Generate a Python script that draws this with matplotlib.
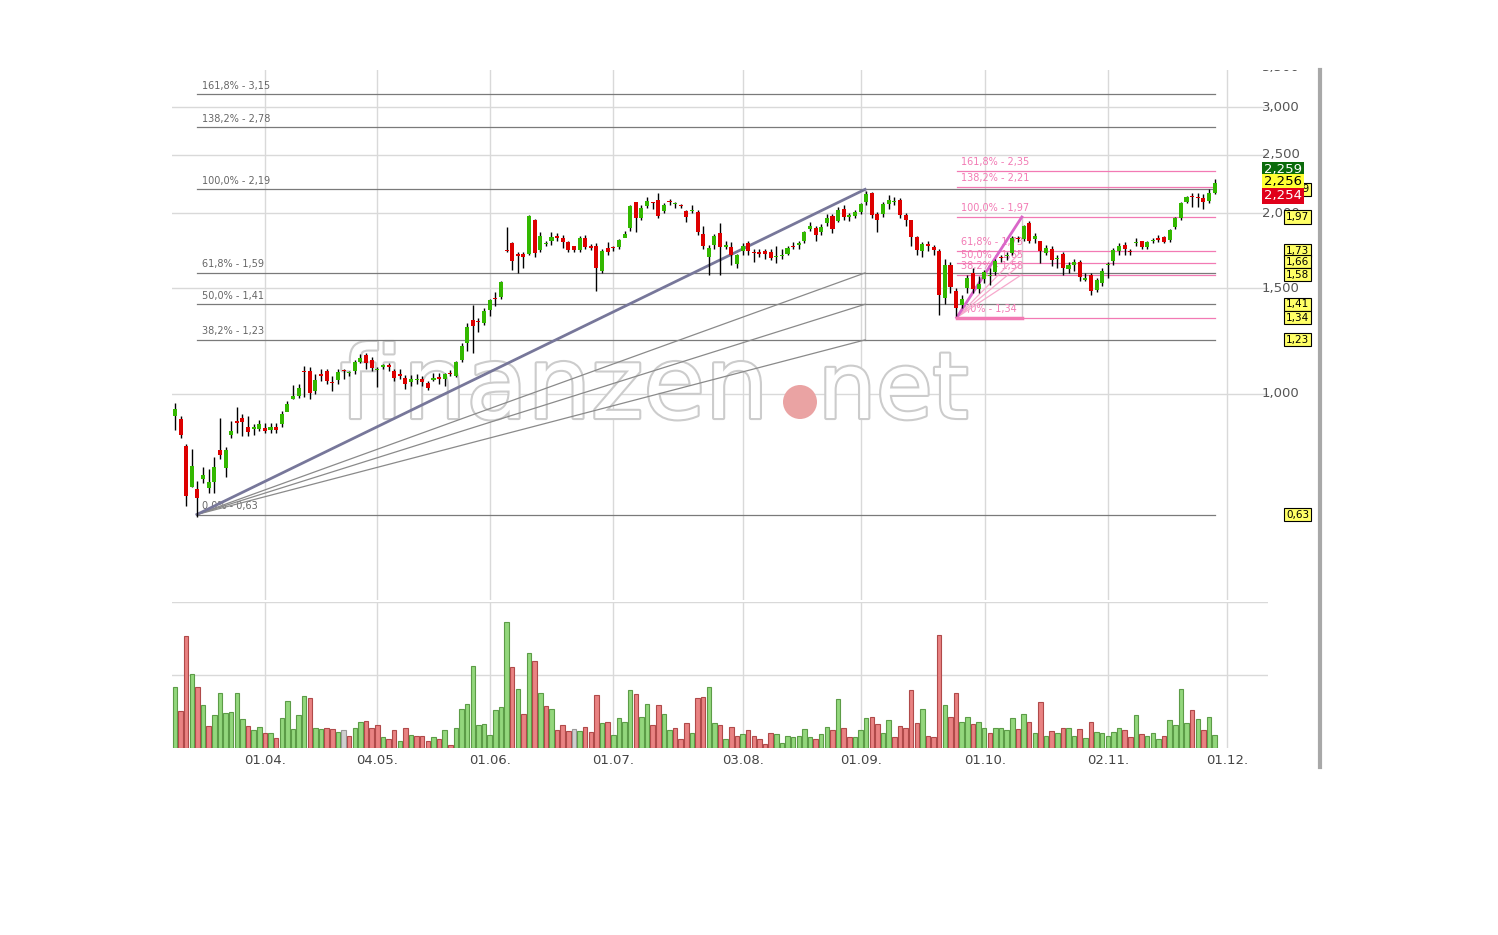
import numpy as np
import matplotlib
matplotlib.use("Agg")
import matplotlib.pyplot as plt
import matplotlib.patheffects as pe
from matplotlib.transforms import blended_transform_factory as btf
from matplotlib.patches import Ellipse, Rectangle

# ---------------- data (prices in EUR, stored in 1/1000) ----------------
opens = [920,910,820,700,695,722,697,714,806,752,855,900,912,882,875,875,878,871,881,891,
933,981,992,1088,1092,1012,1080,1092,1043,1055,1092,1084,1092,1130,1161,1139,1096,1110,1117,1092,
1080,1063,1047,1055,1059,1043,1055,1067,1059,1080,1072,1139,1216,1328,1318,1312,1380,1440,1450,1730,
1784,1700,1710,1710,1948,1737,1775,1797,1831,1817,1790,1760,1735,1817,1760,1762,1602,1750,1750,1755,
1818,1889,2087,1962,2053,2076,2101,2014,2098,2068,2055,2014,2017,2006,1846,1688,1770,1853,1755,1757,
1644,1729,1784,1716,1722,1729,1722,1690,1697,1710,1755,1770,1797,1880,1889,1862,1926,1976,1942,2030,
1972,1976,2006,2086,2160,1992,1992,2070,2086,2101,1985,1947,1824,1729,1775,1757,1729,1444,1640,1483,
1405,1500,1590,1495,1555,1570,1597,1684,1697,1716,1810,1810,1926,1810,1797,1716,1742,1677,1710,1614,
1640,1658,1548,1578,1489,1530,1640,1664,1729,1770,1722,1784,1797,1755,1797,1817,1824,1803,1896,1960,
2085,2127,2120,2116,2093,2160]
closes = [945,855,675,760,670,733,714,756,792,806,868,895,898,864,876,892,868,881,871,926,
962,992,1023,1087,1004,1055,1072,1051,1042,1088,1091,1085,1130,1148,1126,1105,1097,1117,1110,1063,
1072,1039,1059,1056,1047,1023,1063,1059,1080,1079,1130,1200,1293,1297,1317,1375,1433,1439,1536,1729,
1664,1699,1690,1978,1716,1831,1776,1824,1820,1790,1735,1735,1817,1755,1750,1620,1729,1722,1749,1805,
1846,2053,1962,2039,2095,2075,1976,2063,2085,2069,2054,1972,2018,1862,1760,1750,1831,1755,1770,1700,
1700,1762,1729,1715,1710,1710,1684,1691,1703,1750,1754,1784,1862,1902,1840,1896,1960,1880,2023,1970,
1973,2006,2070,2150,1985,1950,2070,2101,2087,1985,1947,1824,1737,1775,1764,1735,1460,1640,1506,1391,
1437,1560,1495,1525,1597,1571,1664,1683,1703,1817,1809,1902,1797,1831,1729,1750,1670,1678,1620,1640,
1658,1566,1560,1483,1548,1602,1641,1735,1762,1742,1721,1785,1755,1790,1798,1803,1790,1875,1960,2078,
2127,2126,2119,2086,2160,2245]
highs = [966,920,825,810,715,755,750,785,912,815,900,950,925,920,890,905,895,895,893,935,
975,1035,1040,1112,1110,1080,1100,1100,1070,1100,1100,1090,1140,1165,1170,1150,1110,1120,1125,1100,
1100,1075,1075,1080,1070,1050,1085,1085,1085,1095,1135,1215,1310,1406,1340,1390,1440,1480,1540,1897,
1790,1720,1720,1985,1955,1860,1800,1860,1850,1840,1800,1765,1830,1840,1775,1780,1740,1790,1765,1810,
1870,2060,2090,2060,2130,2090,2160,2080,2110,2090,2070,2020,2060,2020,1900,1770,1845,1925,1800,1790,
1710,1780,1800,1740,1740,1740,1740,1760,1740,1760,1790,1800,1870,1930,1900,1920,1990,1990,2050,2060,
2000,2020,2080,2180,2170,2010,2090,2140,2130,2120,2000,1950,1830,1790,1800,1770,1740,1680,1660,1500,
1460,1575,1620,1570,1610,1620,1680,1700,1720,1830,1830,1910,1940,1850,1800,1770,1760,1700,1720,1660,
1680,1670,1590,1590,1560,1620,1660,1750,1780,1790,1740,1820,1800,1800,1820,1840,1830,1880,1970,2090,
2135,2160,2160,2150,2190,2275]
lows = [870,845,650,700,625,710,685,685,780,728,845,860,850,850,855,868,860,862,860,880,
940,980,985,990,980,1000,1050,1040,1010,1040,1060,1070,1080,1125,1100,1090,1025,1100,1090,1050,
1060,1020,1030,1040,1030,1015,1050,1040,1030,1070,1065,1130,1180,1170,1270,1300,1350,1400,1440,1720,
1608,1590,1620,1700,1690,1720,1760,1770,1800,1750,1720,1720,1720,1740,1735,1483,1590,1700,1730,1740,
1830,1870,1860,1950,2040,2030,1965,2000,2060,2040,2040,1930,2000,1840,1740,1580,1740,1580,1740,1640,
1620,1700,1700,1660,1690,1680,1670,1650,1680,1700,1740,1740,1780,1870,1800,1840,1900,1850,1930,1950,
1940,1960,1990,2060,1960,1860,1970,2030,2060,1960,1900,1760,1700,1690,1730,1700,1354,1410,1470,1350,
1390,1470,1470,1470,1530,1520,1580,1660,1670,1700,1790,1800,1780,1780,1650,1700,1630,1620,1580,1590,
1600,1540,1540,1460,1480,1510,1560,1640,1700,1700,1700,1760,1740,1740,1780,1790,1780,1790,1880,1950,
2080,2050,2050,2030,2080,2150]
volume = [0.83,0.51,1.54,1.02,0.84,0.59,0.30,0.45,0.75,0.48,0.50,0.75,0.40,0.30,0.25,0.29,0.20,0.21,0.14,0.41,
0.65,0.26,0.45,0.71,0.68,0.27,0.26,0.28,0.26,0.22,0.25,0.16,0.28,0.35,0.37,0.27,0.31,0.15,0.12,0.24,
0.10,0.28,0.18,0.17,0.17,0.10,0.15,0.13,0.25,0.04,0.28,0.53,0.60,1.12,0.32,0.33,0.18,0.52,0.56,1.72,
1.11,0.81,0.47,1.30,1.19,0.76,0.57,0.53,0.25,0.32,0.23,0.26,0.23,0.29,0.22,0.73,0.34,0.35,0.18,0.41,
0.35,0.80,0.74,0.43,0.60,0.31,0.59,0.46,0.25,0.27,0.13,0.34,0.20,0.69,0.70,0.83,0.34,0.32,0.13,0.29,
0.16,0.19,0.24,0.16,0.12,0.06,0.21,0.19,0.07,0.17,0.15,0.16,0.26,0.15,0.13,0.19,0.29,0.24,0.67,0.28,
0.15,0.15,0.25,0.41,0.43,0.33,0.21,0.39,0.15,0.30,0.27,0.80,0.34,0.53,0.16,0.15,1.55,0.59,0.42,0.75,
0.35,0.42,0.33,0.36,0.27,0.20,0.28,0.28,0.24,0.41,0.26,0.47,0.35,0.20,0.63,0.17,0.23,0.20,0.27,0.27,
0.16,0.26,0.14,0.36,0.22,0.21,0.16,0.22,0.28,0.25,0.15,0.45,0.19,0.16,0.21,0.12,0.17,0.39,0.31,0.81,
0.34,0.52,0.40,0.25,0.42,0.18]
vol_dir = ("GRRGRGRGGG" "GGGRGGRGRG" "GGGGRGGRRG" "NRGGRRRGRR" "GRGRRRGRGR" "GGGGGGGGGG"
           "RGRGRGRGRR" "RNGRRRGRGG" "GGRGGRRGGR" "RRGRRG" "GRGR" "RGRRRRRGGG" "GGGGRGGRGR"
           "RGGGRRGGRR" "RRRGRRRGRR" "GGRGGRGGGG" "RGRGRGRGRG" "GRGRGGGGGR" "RGRGGGRGGG" "GRGRGG")

tick_labels = ["01.04.", "04.05.", "01.06.", "01.07.", "03.08.", "01.09.", "01.10.", "02.11.", "01.12."]
tick_pos = [16.0, 35.9, 56.0, 77.9, 101.1, 122.1, 144.1, 166.0, 187.2]
y_ticks = [1.0, 1.5, 2.0, 2.5, 3.0, 3.5]
y_tick_labels = ["1,000", "1,500", "2,000", "2,500", "3,000", "3,500"]

fib_levels = [3.15, 2.78, 2.19, 1.59, 1.41, 1.23, 0.63]
fib_pct = ["161,8%", "138,2%", "100,0%", "61,8%", "50,0%", "38,2%", "0,0%"]
fib_x = [3.9, 122.8]
pink_levels = [2.35, 2.21, 1.97, 1.73, 1.65, 1.58, 1.34]
pink_pct = ["161,8%", "138,2%", "100,0%", "61,8%", "50,0%", "38,2%", "0,0%"]
pink_x = [139.1, 150.7]
box_vals = [2.19, 1.97, 1.73, 1.66, 1.58, 1.41, 1.34, 1.23, 0.63]
last_prices = [("2,259", "#0b6b0b", "white"), ("2,256", "#ffff33", "black"), ("2,254", "#e0001a", "white")]

n = min(len(opens), len(closes), len(highs), len(lows))
o = np.array(opens[:n]) / 1000
c = np.array(closes[:n]) / 1000
h = np.array(highs[:n]) / 1000
l = np.array(lows[:n]) / 1000
idx = np.arange(n)

W, H = 1498, 935
fig = plt.figure(figsize=(W / 100, H / 100), dpi=100)
fig.patch.set_facecolor("white")

L, R = 172, 1268
ax = fig.add_axes([L / W, 1 - 600 / H, (R - L) / W, (600 - 70) / H])
axv = fig.add_axes([L / W, 1 - 748 / H, (R - L) / W, (748 - 602) / H])
xl = (-0.53, 194.5)
for a in (ax, axv):
    a.set_xlim(*xl)
    for s in a.spines.values():
        s.set_visible(False)
    a.set_facecolor("none")
    a.tick_params(length=0)

ax.set_yscale("log")
ax.set_ylim(0.454, 3.46)
ax.set_xticks([]); ax.set_yticks([]); ax.minorticks_off()
gc = "#d9d9d9"
for v in y_ticks:
    ax.axhline(v, color=gc, lw=1, zorder=0)
for t in tick_pos:
    ax.axvline(t, color=gc, lw=1, zorder=0)
    axv.axvline(t, color=gc, lw=1, zorder=0)
tr = btf(ax.transAxes, ax.transData)
clip_rect = Rectangle((1200 / W, 1 - 600 / H), 150 / W, 530 / H, transform=fig.transFigure)
for v, s in zip(y_ticks, y_tick_labels):
    t = ax.text(0.9945, v, s, transform=tr, ha="left", va="center", fontsize=9.5,
                color="#555555")
    t.set_clip_on(True)
    t.set_clip_box(None)
    t.set_clip_path(clip_rect)

# watermark
wm = [pe.withStroke(linewidth=3, foreground="#cccccc")]
ax.text(340 / W, 1 - 418 / H, "finanzen", transform=fig.transFigure, fontsize=72,
        color="white", ha="left", va="baseline", zorder=1.5, path_effects=wm)
ax.text(818 / W, 1 - 418 / H, "net", transform=fig.transFigure, fontsize=66,
        color="white", ha="left", va="baseline", zorder=1.5, path_effects=wm)
ax.add_patch(Ellipse((800 / W, 1 - 402 / H), 34 / W, 34 / H, transform=fig.transFigure,
                     facecolor="#eaa3a3", edgecolor="none", zorder=1.6))

# gray fib
gray = "#7a7a7a"
for lev, p in zip(fib_levels, fib_pct):
    ax.plot([fib_x[0], 185.1], [lev, lev], color=gray, lw=0.9, zorder=2)
    ax.annotate(f"{p} - {lev:.2f}".replace(".", ","), (fib_x[0] + 0.9, lev),
                xytext=(0, 4), textcoords="offset points", fontsize=7, color="#666666",
                zorder=2)
for lev in fib_levels[3:6]:
    ax.plot(fib_x, [fib_levels[6], lev], color="#8a8a8a", lw=0.9, zorder=2)
ax.plot(fib_x, [fib_levels[6], fib_levels[2]], color="#77779a", lw=2, zorder=2)
ax.plot([fib_x[1]] * 2, [fib_levels[5], fib_levels[2]], color="#c8c8c8", lw=1, zorder=1)

# pink fib
pink = "#f27ab4"
for lev, p in zip(pink_levels, pink_pct):
    ax.plot([pink_x[0], 185.1], [lev, lev], color=pink, lw=0.9, zorder=2)
    ax.annotate(f"{p} - {lev:.2f}".replace(".", ","), (pink_x[0] + 0.7, lev),
                xytext=(0, 4), textcoords="offset points", fontsize=7, color=pink, zorder=2)
for lev in pink_levels[3:6]:
    ax.plot(pink_x, [pink_levels[6], lev], color="#f7a8cc", lw=0.9, zorder=2)
ax.plot(pink_x, [pink_levels[6], pink_levels[2]], color="#d966c8", lw=2, zorder=2)
ax.plot(pink_x, [pink_levels[6]] * 2, color=pink, lw=2.5, zorder=2)
ax.plot([pink_x[1]] * 2, [pink_levels[6], pink_levels[2]], color="#d0d0d0", lw=1, zorder=1)

# candles
up = c >= o
col = np.where(up, "#33b800", "#dd0000")
ax.vlines(idx, l, h, color="black", lw=1, zorder=3)
bot = np.minimum(o, c)
top = np.maximum(np.maximum(o, c), bot * 1.005)
ax.bar(idx, top - bot, bottom=bot, width=0.72, color=col, edgecolor="none", zorder=4)

# right boxes
for v in box_vals:
    ax.text(1.0164, v, f"{v:.2f}".replace(".", ","), transform=tr, fontsize=7.5,
            ha="left", va="center", zorder=6, clip_on=False,
            bbox=dict(boxstyle="square,pad=0.15", fc="#ffff66", ec="black", lw=0.8))
for (s, fc, tc), y in zip(last_prices, [170, 182, 196]):
    fig.text(1264 / W, 1 - y / H, s, fontsize=9.5, color=tc, ha="left", va="center",
             bbox=dict(boxstyle="square,pad=0.12", fc=fc, ec="none"))

# volume
vn = min(len(volume), len(vol_dir))
fcmap = {"G": "#93d77c", "R": "#e98282", "N": "#cfcfcf"}
ecmap = {"G": "#5c9c47", "R": "#b04a4a", "N": "#9a9a9a"}
axv.set_ylim(0, 2.0)
axv.set_yticks([])
axv.axhline(1.0, color=gc, lw=1, zorder=0)
axv.axhline(1.995, color=gc, lw=1, zorder=0)
axv.bar(np.arange(vn), volume[:vn], width=0.8,
        color=[fcmap[d] for d in vol_dir[:vn]], edgecolor=[ecmap[d] for d in vol_dir[:vn]],
        lw=0.8, zorder=2)
axv.set_xticks(tick_pos)
axv.set_xticklabels(tick_labels, fontsize=9.5, color="#444444")
axv.tick_params(axis="x", pad=4)

# right border
fig.add_artist(plt.Line2D([1320 / W] * 2, [1 - 70 / H, 1 - 767 / H], color="#a8a8a8", lw=3,
                          transform=fig.transFigure))

fig.savefig("out.png", dpi=100)
